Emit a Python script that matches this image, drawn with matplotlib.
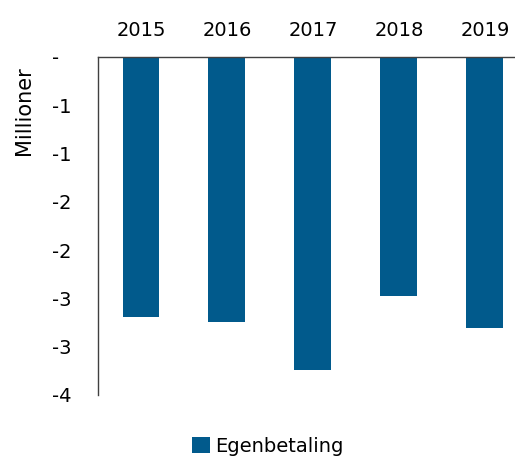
import matplotlib
matplotlib.use("Agg")
import matplotlib.pyplot as plt
from matplotlib.ticker import FuncFormatter, MultipleLocator
import math

years = ["2015", "2016", "2017", "2018", "2019"]
egenbetaling = [-2.69, -2.74, -3.24, -2.47, -2.81]

color = "#015A8C"
plt.rcParams["font.family"] = ["DejaVu Sans"]


def fmt(v, pos):
    if abs(v) < 1e-9:
        return "-"
    return "-%d" % math.floor(abs(v) + 0.5)


fig = plt.figure(figsize=(5.15, 4.58), dpi=100)
ax = fig.add_axes([98 / 515, 1 - 395 / 458, 1 - 98 / 515, (395 - 57) / 458])

x = range(len(years))
ax.bar(x, egenbetaling, width=0.43, color=color, label="Egenbetaling", zorder=2)

ax.set_ylim(-3.5, 0)
ax.set_xlim(-0.5, 4.35)
ax.yaxis.set_major_locator(MultipleLocator(0.5))
ax.yaxis.set_major_formatter(FuncFormatter(fmt))
ax.set_xticks(list(x))
ax.set_xticklabels(years)
ax.xaxis.tick_top()
ax.tick_params(axis="x", length=0, pad=12, labelsize=14)
ax.tick_params(axis="y", length=0, pad=33, labelsize=14)
for lbl in ax.get_yticklabels():
    lbl.set_horizontalalignment("left")

ax.spines["right"].set_visible(False)
ax.spines["bottom"].set_visible(False)
ax.spines["top"].set_color("#404040")
ax.spines["left"].set_color("#404040")
ax.spines["top"].set_linewidth(1.0)
ax.spines["left"].set_linewidth(1.0)

fig.text(24 / 515, 1 - 111 / 458, "Millioner", rotation=90, ha="center", va="center", fontsize=15)

fig.legend(loc="center", bbox_to_anchor=(268 / 515, 1 - 446 / 458), frameon=False,
           fontsize=14, handlelength=0.9, handleheight=0.9, handletextpad=0.3)

fig.savefig("out.png", dpi=100)
